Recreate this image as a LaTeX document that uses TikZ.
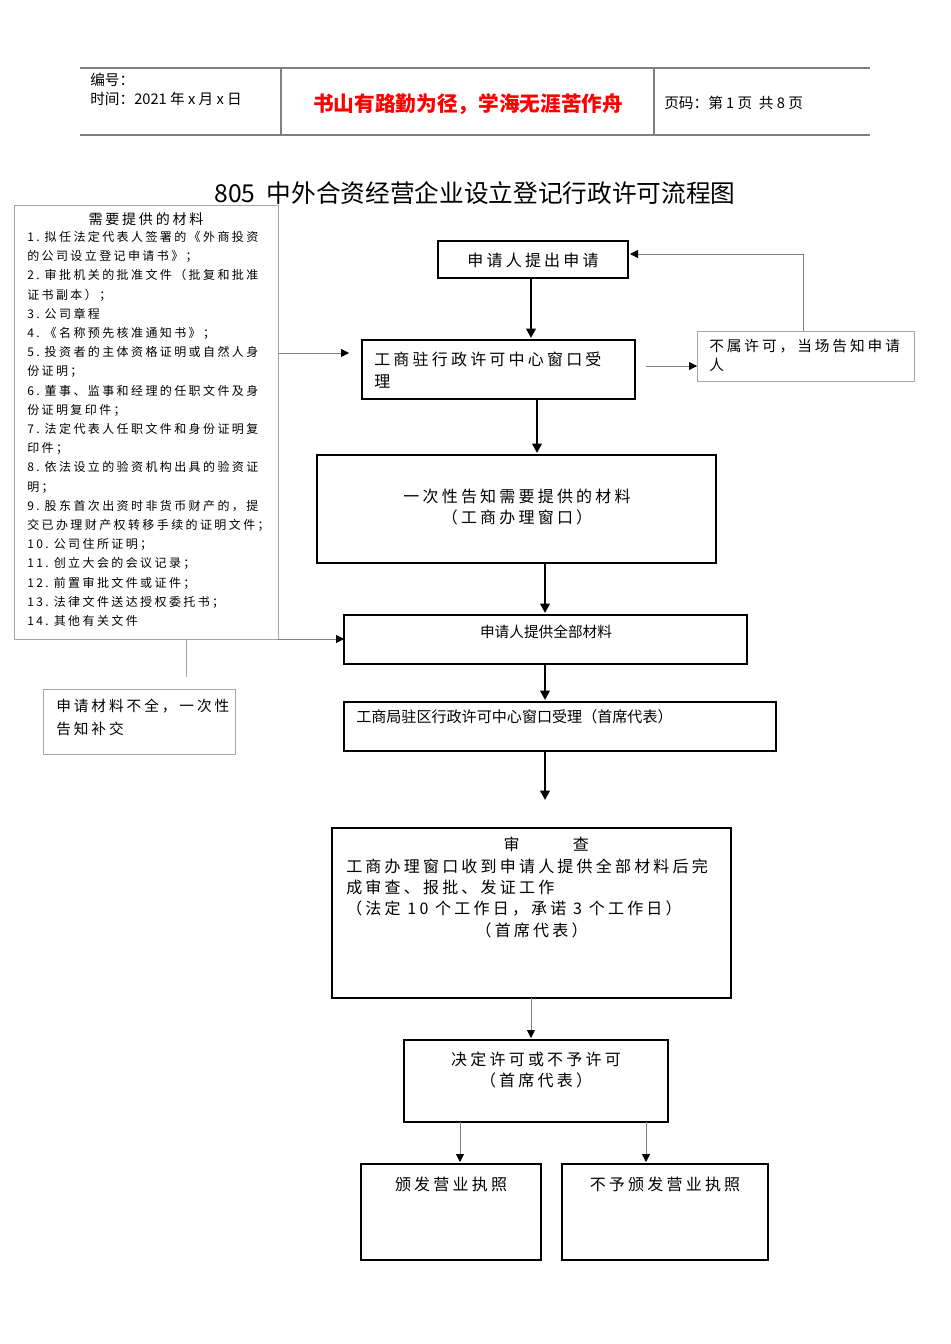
\documentclass[tikz,border=0pt]{standalone}
\usepackage{fontspec}
\setmainfont{Noto Sans CJK SC}
\newfontfamily\spc[LetterSpace=20]{Noto Sans CJK SC}
\usetikzlibrary{arrows.meta}
\begin{document}
\begin{tikzpicture}[x=0.75pt,y=-0.75pt,
 thickbox/.style={draw,line width=2pt},
 thinbox/.style={draw=gray!70,line width=0.6pt},
 bigarrow/.style={line width=2pt,-{Triangle[length=7pt,width=7pt]}},
 smallarrow/.style={draw=gray,line width=0.6pt,-{Triangle[length=6pt,width=6pt,fill=black,color=black]}},
 txt/.style={font=\spc\fontsize{12}{16}\selectfont,inner sep=0pt},
 lst/.style={font=\spc\fontsize{9}{14.4}\selectfont,inner sep=0pt,align=left,anchor=north west}]
\useasboundingbox (0,0) rectangle (950,1344);
% header
\draw[gray,line width=1pt] (80,68) -- (870,68) (80,135) -- (870,135);
\draw[gray,line width=0.8pt] (281,68) -- (281,135) (654,68) -- (654,135);
\node[inner sep=0pt,anchor=west,font=\fontsize{11}{14}\selectfont] (bh) at (90,80) {编号：};
\node[inner sep=0pt,anchor=west,font=\fontsize{11}{14}\selectfont] (tm) at (90,99) {时间：2021 年 x 月 x 日};
\node[inner sep=0pt,font=\bfseries\fontsize{15.5}{18}\selectfont,text=red] (motto) at (468,104) {书山有路勤为径，学海无涯苦作舟};
\node[inner sep=0pt,anchor=west,font=\fontsize{11}{14}\selectfont] (pg) at (664,103) {页码：第 1 页\ \ 共 8 页};
\node[inner sep=0pt,font=\fontsize{18.5}{20}\selectfont] (title) at (475,193) {805\ \ 中外合资经营企业设立登记行政许可流程图};
% left materials box
\draw[thinbox] (14,205) rectangle (278,639);
\coordinate (lbR) at (278,353);
\coordinate (lbB) at (278,639);
\node[txt,font=\spc\fontsize{10.5}{14}\selectfont] (lh) at (146,219) {需要提供的材料};
\node[lst] (list) at (27,231) {1.\ 拟任法定代表人签署的《外商投资\\的公司设立登记申请书》；\\2.\ 审批机关的批准文件（批复和批准\\证书副本）；\\3.\ 公司章程\\4.\ 《名称预先核准通知书》；\\5.\ 投资者的主体资格证明或自然人身\\份证明；\\6.\ 董事、监事和经理的任职文件及身\\份证明复印件；\\7.\ 法定代表人任职文件和身份证明复\\印件；\\8.\ 依法设立的验资机构出具的验资证\\明；\\9.\ 股东首次出资时非货币财产的，提\\交已办理财产权转移手续的证明文件；\\10.\ 公司住所证明；\\11.\ 创立大会的会议记录；\\12.\ 前置审批文件或证件；\\13.\ 法律文件送达授权委托书；\\14.\ 其他有关文件};
% boxes
\draw[thickbox] (438,241) rectangle (628,278);
\node[txt] (b1) at (533,260) {申请人提出申请};
\draw[thickbox] (362,340) rectangle (635,399);
\node[txt,anchor=north west,align=left] (b2) at (374,352) {工商驻行政许可中心窗口受\\理};
\draw[thinbox] (697,331) rectangle (914,381);
\node[txt,anchor=north west,align=left,font=\spc\fontsize{11}{14}\selectfont] (r) at (709,339) {不属许可，当场告知申请\\人};
\draw[thickbox] (317,455) rectangle (716,563);
\node[txt,align=center] (b3) at (517,507) {一次性告知需要提供的材料\\（工商办理窗口）};
\draw[thickbox] (344,615) rectangle (747,664);
\node[inner sep=0pt,font=\fontsize{11}{14}\selectfont] (b4) at (546,632) {申请人提供全部材料};
\draw[thinbox] (43,689) rectangle (235,754);
\node[txt,anchor=north west,align=left,font=\spc\fontsize{11}{17}\selectfont] (l5) at (56,699) {申请材料不全，一次性\\告知补交};
\draw[thickbox] (344,702) rectangle (776,751);
\node[inner sep=0pt,anchor=west,font=\fontsize{11.3}{14}\selectfont] (b6) at (356,717) {工商局驻区行政许可中心窗口受理（首席代表）};
\draw[thickbox] (332,828) rectangle (731,998);
\node[txt,anchor=north west,align=left] (b7) at (346,837) {\hspace{118pt}审\hspace{40pt}查\\工商办理窗口收到申请人提供全部材料后完\\成审查、报批、发证工作\\（法定 10 个工作日，承诺 3 个工作日）\\\hspace{97pt}（首席代表）};
\draw[thickbox] (404,1040) rectangle (668,1122);
\node[txt,align=center] (b8) at (536,1070) {决定许可或不予许可\\（首席代表）};
\draw[thickbox] (361,1164) rectangle (541,1260);
\node[txt] (b9) at (451,1184) {颁发营业执照};
\draw[thickbox] (562,1164) rectangle (768,1260);
\node[txt] (b10) at (665,1184) {不予颁发营业执照};
% connectors
\coordinate (a1s) at (531,278); \coordinate (a1e) at (531,338);
\draw[bigarrow] (a1s) -- (a1e);
\coordinate (rs) at (646,366); \coordinate (re) at (697,366);
\draw[smallarrow] (rs) -- (re);
\coordinate (fb1) at (803,331); \coordinate (fb2) at (803,254); \coordinate (fb3) at (630,254);
\draw[smallarrow] (fb1) -- (fb2) -- (fb3);
\coordinate (l1e) at (349,353);
\draw[smallarrow] (lbR) -- (l1e);
\coordinate (a2s) at (537,399); \coordinate (a2e) at (537,453);
\draw[bigarrow] (a2s) -- (a2e);
\coordinate (a3s) at (545,563); \coordinate (a3e) at (545,613);
\draw[bigarrow] (a3s) -- (a3e);
\coordinate (l2e) at (344,639);
\draw[smallarrow] (lbB) -- (l2e);
\coordinate (v1) at (186,639); \coordinate (v2) at (186,677);
\draw[gray!70,line width=0.6pt] (v1) -- (v2);
\coordinate (a4s) at (545,664); \coordinate (a4e) at (545,700);
\draw[bigarrow] (a4s) -- (a4e);
\coordinate (a5s) at (545,751); \coordinate (a5e) at (545,800);
\draw[bigarrow] (a5s) -- (a5e);
\coordinate (a6s) at (531,998); \coordinate (a6e) at (531,1038);
\draw[smallarrow] (a6s) -- (a6e);
\coordinate (a7s) at (460,1122); \coordinate (a7e) at (460,1162);
\draw[smallarrow] (a7s) -- (a7e);
\coordinate (a8s) at (646,1122); \coordinate (a8e) at (646,1162);
\draw[smallarrow] (a8s) -- (a8e);
\end{tikzpicture}
\end{document}
